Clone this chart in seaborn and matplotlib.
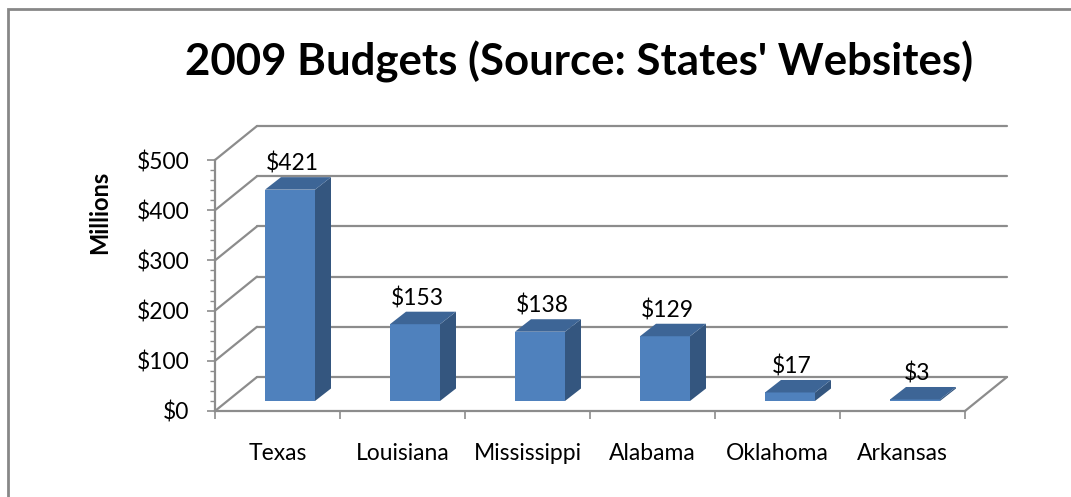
import matplotlib
matplotlib.use("Agg")
import matplotlib.pyplot as plt
import matplotlib.transforms as mtransforms
from matplotlib.patches import Polygon, Rectangle
from matplotlib.ticker import MultipleLocator, FixedLocator, FuncFormatter
import seaborn as sns
import pandas as pd

# ---- data ----
states = ["Texas", "Louisiana", "Mississippi", "Alabama", "Oklahoma", "Arkansas"]
budgets = [421, 153, 138, 129, 17, 3]
title = "2009 Budgets (Source: States' Websites)"
ylabel = "Millions"

sns.set_theme(style="white")
plt.rcParams["font.family"] = ["Lato", "DejaVu Sans"]

W, H = 1071, 497
DPI = 100
fig = plt.figure(figsize=(W / DPI, H / DPI), dpi=DPI)
fig.patch.set_facecolor("white")

# front plane of the 3-D box (pixels)
x0, x1 = 215, 965
y0, y1 = 411, 160
ax = fig.add_axes([x0 / W, (H - y0) / H, (x1 - x0) / W, (y0 - y1) / H])
ax.set_facecolor("none")

df = pd.DataFrame({"state": states, "budget": budgets})
sns.barplot(data=df, x="state", y="budget", color="#4F81BD", width=0.4,
            saturation=1, ax=ax, zorder=3)
ax.set_xlim(-0.5, 5.5)
ax.set_ylim(0, 500)

grid_c = "#8C8C8C"
px = 1.0 / DPI
# wall depth offset (pixels), bar-plane offset and bar depth
WDX, WDY = 42, 34
BPX, BPY = 12.5, 10
BDX, BDY = 16, 12.5
FS = 16.5

def off(dx, dy):
    return ax.transData + mtransforms.ScaledTranslation(dx * px, dy * px, fig.dpi_scale_trans)

back = off(WDX, WDY)
ticks = list(range(0, 501, 100))
for v in ticks:
    # back wall gridline
    ax.plot([-0.5, 5.5], [v, v], color=grid_c, lw=1.6, transform=back, zorder=1, clip_on=False)
    # left wall diagonal
    ax.annotate("", xy=(-0.5, v), xycoords=back, xytext=(-0.5, v), textcoords="data",
                arrowprops=dict(arrowstyle="-", color=grid_c, lw=1.6, shrinkA=0, shrinkB=0),
                annotation_clip=False, zorder=1)
# floor right edge
ax.annotate("", xy=(5.5, 0), xycoords=back, xytext=(5.5, 0), textcoords="data",
            arrowprops=dict(arrowstyle="-", color=grid_c, lw=1.6, shrinkA=0, shrinkB=0),
            annotation_clip=False, zorder=1)

# bars: shift to their depth and add top/side faces
bar_tr = off(BPX, BPY)
side_c = "#34567F"
top_c = "#3D6596"
for p in ax.patches:
    p.set_transform(bar_tr)
    p.set_edgecolor("none")
    bx, bw, bh = p.get_x(), p.get_width(), p.get_height()
    tr = bar_tr
    fl = tr.transform((bx, bh))
    fr = tr.transform((bx + bw, bh))
    br = tr.transform((bx + bw, 0))
    d = (BDX, BDY)
    top = [fl, fr, (fr[0] + d[0], fr[1] + d[1]), (fl[0] + d[0], fl[1] + d[1])]
    side = [fr, br, (br[0] + d[0], br[1] + d[1]), (fr[0] + d[0], fr[1] + d[1])]
    for poly, c in ((side, side_c), (top, top_c)):
        ax.add_patch(Polygon(poly, closed=True, facecolor=c, edgecolor="none",
                             transform=None, zorder=3, clip_on=False))
    ax.annotate(f"${bh:.0f}", xy=(bx + bw / 2, bh), xycoords=bar_tr,
                xytext=(2, 26), textcoords="offset pixels", ha="center", va="center",
                fontsize=FS, color="black", zorder=5, annotation_clip=False)

# spines
for s in ("top", "right"):
    ax.spines[s].set_visible(False)
for s in ("left", "bottom"):
    ax.spines[s].set_visible(True)
    ax.spines[s].set_color(grid_c)
    ax.spines[s].set_linewidth(1.6)

# y axis
ax.yaxis.set_major_locator(FixedLocator(ticks))
ax.yaxis.set_minor_locator(MultipleLocator(20))
ax.yaxis.set_major_formatter(FuncFormatter(lambda v, _: f"${v:.0f}"))
ax.tick_params(axis="y", which="major", left=True, length=5.5, width=1.2, color=grid_c,
               pad=13, labelsize=FS, labelcolor="black")
ax.tick_params(axis="y", which="minor", left=True, length=3.5, width=1.0, color=grid_c)

# x axis: labels at categories, ticks at boundaries
ax.xaxis.set_minor_locator(FixedLocator([i - 0.5 for i in range(len(states) + 1)]))
ax.tick_params(axis="x", which="major", bottom=False, length=0, pad=23,
               labelsize=FS, labelcolor="black")
ax.tick_params(axis="x", which="minor", bottom=True, length=5.5, width=1.2, color=grid_c)
ax.set_xlabel("")
ax.set_ylabel(ylabel, fontsize=17, fontweight="bold", color="black")
ax.yaxis.set_label_coords(-0.139, 0.793)

fig.text(579 / W, 1 - 62 / H, title, ha="center", va="center",
         fontsize=31.5, fontweight="bold", color="black")

# chart border
fig.patches.append(Rectangle((8 / W, -0.1), 1.2, 1 - 9 / H + 0.1, transform=fig.transFigure,
                             fill=False, edgecolor="#878787", lw=2))

fig.savefig("out.png", dpi=DPI)
